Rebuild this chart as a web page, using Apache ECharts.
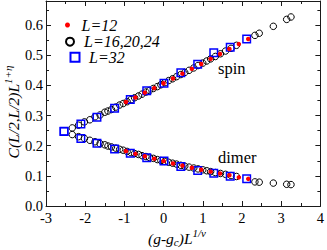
<!DOCTYPE html>
<html>
<head>
<meta charset="utf-8">
<script src="https://cdn.jsdelivr.net/npm/echarts@6/dist/echarts.min.js"></script>
<style>
html,body{margin:0;padding:0;background:#fff;}
#c{width:327px;height:250px;}
</style>
</head>
<body>
<div id="c"></div>
<script>
// L = 16,20,24 (open circles)
var x16 = [-2.33,-2.17,-2.02,-1.88,-1.75,-1.62,-1.50,-1.42,-1.33,-1.22,-1.12,-1.03,-0.93,-0.83,-0.74,-0.64,-0.55,-0.45,-0.36,-0.26,-0.16,-0.07,0.03,0.13,0.23,0.33,0.44,0.54,0.65,0.77,0.88,1.00,1.10,1.20,1.32,1.45,1.58,1.72,1.86,2.33,2.44,2.80,3.14,3.25];
var spin16 = [0.259,0.268,0.279,0.286,0.296,0.302,0.311,0.315,0.320,0.328,0.335,0.340,0.346,0.353,0.359,0.365,0.371,0.378,0.383,0.390,0.396,0.402,0.409,0.416,0.422,0.429,0.436,0.443,0.450,0.458,0.466,0.474,0.481,0.488,0.496,0.505,0.514,0.523,0.533,0.566,0.573,0.596,0.619,0.627];
var dimer16 = [0.237,0.230,0.224,0.218,0.213,0.207,0.203,0.199,0.196,0.192,0.188,0.185,0.181,0.177,0.174,0.171,0.167,0.164,0.161,0.158,0.154,0.151,0.148,0.145,0.142,0.139,0.135,0.132,0.129,0.126,0.123,0.120,0.117,0.114,0.111,0.108,0.105,0.101,0.098,0.080,0.079,0.076,0.072,0.071];
// L = 32 (blue squares)
var x32 = [-2.54,-2.11,-1.70,-1.25,-0.85,-0.43,0.01,0.44,0.87,1.28,1.70,2.12];
var spin32 = [0.248,0.272,0.294,0.324,0.353,0.382,0.407,0.442,0.470,0.508,0.527,0.554];
var dimer32 = [0.247,0.224,0.208,0.189,0.175,0.160,0.149,0.131,0.118,0.109,0.099,0.090];
// L = 12 (red dots)
var x12 = [-0.96,-0.72,-0.48,-0.24,0.00,0.24,0.48,0.72,0.96,1.20,1.44,1.68,1.92,2.16];
var spin12 = [0.345,0.360,0.376,0.391,0.407,0.423,0.439,0.455,0.471,0.488,0.504,0.521,0.537,0.554];
var dimer12 = [0.182,0.173,0.165,0.157,0.149,0.141,0.134,0.127,0.120,0.114,0.108,0.102,0.095,0.090];

var seriesNames = ['L=12', 'L=16,20,24', 'L=32'];
var xTicks = { min: -3, max: 4, interval: 1 };
var yTicks = { min: 0, max: 0.68, interval: 0.1 };

function pairs(xs, a, b) {
  var out = [];
  for (var i = 0; i < xs.length; i++) out.push([xs[i], a[i]]);
  for (var j = 0; j < xs.length; j++) out.push([xs[j], b[j]]);
  return out;
}

var SERIF = "'Liberation Serif','Times New Roman',serif";
var AX = '#1a1a1a';

function xAxisDef(pos, showLabel) {
  return {
    type: 'value', position: pos, min: xTicks.min, max: xTicks.max, interval: xTicks.interval,
    axisLine: { show: true, onZero: false, lineStyle: { color: AX, width: 1 } },
    axisTick: { show: true, inside: true, length: 5, lineStyle: { color: AX } },
    minorTick: { show: true, splitNumber: 2, length: 3, lineStyle: { color: AX } },
    splitLine: { show: false },
    axisLabel: { show: showLabel, color: '#000', fontFamily: SERIF, fontSize: 14.5, margin: 4 }
  };
}
function yAxisDef(pos, showLabel) {
  return {
    type: 'value', position: pos, min: yTicks.min, max: yTicks.max, interval: yTicks.interval,
    axisLine: { show: true, onZero: false, lineStyle: { color: AX, width: 1 } },
    axisTick: { show: true, inside: true, length: 5, lineStyle: { color: AX } },
    minorTick: { show: true, splitNumber: 2, length: 3, lineStyle: { color: AX } },
    splitLine: { show: false },
    axisLabel: {
      show: showLabel, color: '#000', fontFamily: SERIF, fontSize: 14.5, margin: 3,
      showMaxLabel: false,
      formatter: function (v) {
        var k = Math.round(v * 10);
        if (Math.abs(v * 10 - k) > 1e-6) return '';
        return (k / 10).toFixed(1);
      }
    }
  };
}

function legendDef(name, left, top, iw, ih, padLeft) {
  return {
    data: [name], left: left, top: top, padding: 0, itemGap: 0,
    itemWidth: iw, itemHeight: ih, selectedMode: false, symbolKeepAspect: true,
    textStyle: { color: '#000', fontFamily: SERIF, fontStyle: 'italic', fontSize: 16, padding: [0, 0, 0, padLeft] }
  };
}

var chart = echarts.init(document.getElementById('c'), null, { renderer: 'svg', width: 327, height: 250 });
chart.setOption({
  backgroundColor: '#fff',
  animation: false,
  grid: { left: 46, right: 5, top: 1, bottom: 44, containLabel: false },
  xAxis: [xAxisDef('bottom', true), xAxisDef('top', false)],
  yAxis: [yAxisDef('left', true), yAxisDef('right', false)],
  legend: [
    legendDef(seriesNames[0], 65, 17, 18, 5, 0),
    legendDef(seriesNames[1], 65, 33.7, 18, 8, 0),
    legendDef(seriesNames[2], 69.5, 49.3, 9, 9, 4.5)
  ],
  series: [
    {
      name: seriesNames[1], type: 'scatter', symbol: 'circle', symbolSize: 6.5,
      itemStyle: { color: 'rgba(255,255,255,0)', borderColor: '#000', borderWidth: 1, opacity: 1 },
      data: pairs(x16, spin16, dimer16), z: 2
    },
    {
      name: seriesNames[2], type: 'scatter', symbol: 'rect', symbolSize: 7.5,
      itemStyle: { color: 'rgba(255,255,255,0)', borderColor: '#0000ff', borderWidth: 1.5, opacity: 1 },
      data: pairs(x32, spin32, dimer32), z: 3
    },
    {
      name: seriesNames[0], type: 'scatter', symbol: 'circle', symbolSize: 4.5,
      itemStyle: { color: '#ff0000', borderWidth: 0, opacity: 1 },
      data: pairs(x12, spin12, dimer12), z: 4
    }
  ],
  graphic: [
    { type: 'text', left: 218, top: 60, silent: true,
      style: { text: 'spin', font: "16.5px " + SERIF, fill: '#000' } },
    { type: 'text', left: 218, top: 148.5, silent: true,
      style: { text: 'dimer', font: "16.5px " + SERIF, fill: '#000' } },
    { type: 'text', x: 13, y: 112, rotation: Math.PI / 2, silent: true,
      style: {
        text: '{b|C(L/2,L/2)L}{sup|1+η}', align: 'center', verticalAlign: 'middle',
        rich: {
          b: { fontSize: 15.5, fontStyle: 'italic', fontFamily: SERIF, fill: '#000' },
          sup: { fontSize: 11, fontStyle: 'italic', fontFamily: SERIF, fill: '#000', padding: [0, 0, 11, 0] }
        }
      } },
    { type: 'text', x: 177, y: 238, silent: true,
      style: {
        text: '{b|(g-g}{sub|c}{b|)L}{sup|1/ν}', align: 'center', verticalAlign: 'middle',
        rich: {
          b: { fontSize: 15.5, fontStyle: 'italic', fontFamily: SERIF, fill: '#000' },
          sub: { fontSize: 11, fontStyle: 'italic', fontFamily: SERIF, fill: '#000', padding: [8, 0, 0, 0] },
          sup: { fontSize: 11, fontStyle: 'italic', fontFamily: SERIF, fill: '#000', padding: [0, 0, 11, 0] }
        }
      } }
  ]
});
</script>
</body>
</html>
